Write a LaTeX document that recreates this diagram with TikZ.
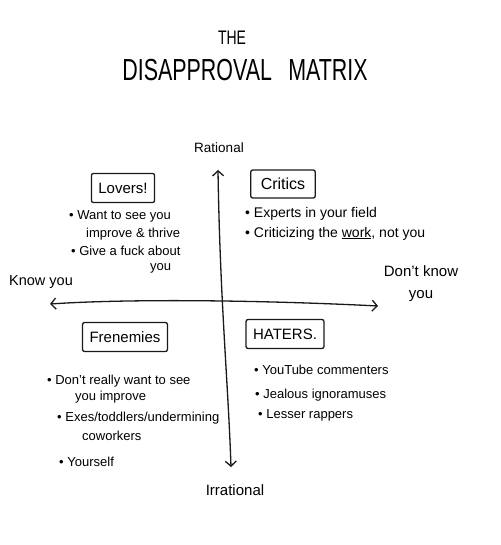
\documentclass[tikz,border=0pt]{standalone}
\usepackage{fontspec}
\usepackage{graphicx}
\setmainfont{Liberation Sans}
\usetikzlibrary{arrows.meta}
\tikzset{
  ink/.style={line width=1.3pt, draw=black!90},
  axis/.style={ink, {Straight Barb[length=5pt,width=11pt]}-{Straight Barb[length=5pt,width=11pt]}},
  catbox/.style={ink, rounded corners=2pt, minimum height=29pt, inner xsep=7pt, font=\fontsize{15}{15}\selectfont},
  itemtext/.style={anchor=base west, inner sep=0pt, font=\fontsize{13}{13}\selectfont},
  axlabel/.style={inner sep=0pt, font=\fontsize{13.5}{13.5}\selectfont, align=center},
}
\begin{document}
\begin{tikzpicture}[x=1pt,y=-1pt]
\useasboundingbox[fill=white] (0,0) rectangle (500,545);
% title
\node[inner sep=0pt] (the) at (232,38) {\scalebox{1}[1.4]{\fontsize{14}{14}\selectfont THE}};
\node[inner sep=0pt] (title) at (245,70) {\scalebox{1.02}[1.45]{\fontsize{21}{21}\selectfont DISAPPROVAL\hspace{16pt}MATRIX}};
% axes labels
\node[axlabel] (rat) at (219,148) {Rational};
\node[axlabel, font=\fontsize{15}{15}\selectfont] (irr) at (235,490) {Irrational};
\node[axlabel, anchor=west, font=\fontsize{14.5}{14.5}\selectfont] (know) at (9,282) {Know you};
\node[axlabel, font=\fontsize{15}{15}\selectfont] (dknow) at (421,284) {Don't know\\[7pt]you};
% axes
\coordinate (vtop) at (218,170);
\coordinate (vbot) at (231,467);
\coordinate (hl) at (50,304);
\coordinate (hr) at (378,306);
\draw[axis] (vtop) .. controls (220,300) and (228,380) .. (vbot);
\draw[axis] (hl) .. controls (140,298) and (280,301) .. (hr);
% category boxes
\node[catbox] (lovers) at (123,188) {Lovers!};
\node[catbox, inner xsep=10pt, font=\fontsize{16}{16}\selectfont, minimum height=28pt] (critics) at (283,184) {Critics};
\node[catbox] (fren) at (125,337) {Frenemies};
\node[catbox] (haters) at (285,334) {HATERS.};
% Lovers items
\node[itemtext] (l1) at (69,219) {• Want to see you};
\node[itemtext] (l2) at (86,237) {improve \& thrive};
\node[itemtext] (l3) at (71,255) {• Give a fuck about};
\node[itemtext] (l4) at (150,270) {you};
% Critics items
\node[itemtext, font=\fontsize{14}{14}\selectfont] (c1) at (245,217) {• Experts in your field};
\node[itemtext, font=\fontsize{14}{14}\selectfont] (c2) at (245,237) {• Criticizing the \underline{work}, not you};
% Frenemies items
\node[itemtext] (f1) at (47,384) {• Don't really want to see};
\node[itemtext] (f2) at (75,400) {you improve};
\node[itemtext] (f3) at (57,421) {• Exes/toddlers/undermining};
\node[itemtext] (f4) at (82,440) {coworkers};
\node[itemtext] (f5) at (59,466) {• Yourself};
% Haters items
\node[itemtext] (h1) at (254,374) {• YouTube commenters};
\node[itemtext] (h2) at (255,398) {• Jealous ignoramuses};
\node[itemtext] (h3) at (258,418) {• Lesser rappers};
\end{tikzpicture}
\end{document}
